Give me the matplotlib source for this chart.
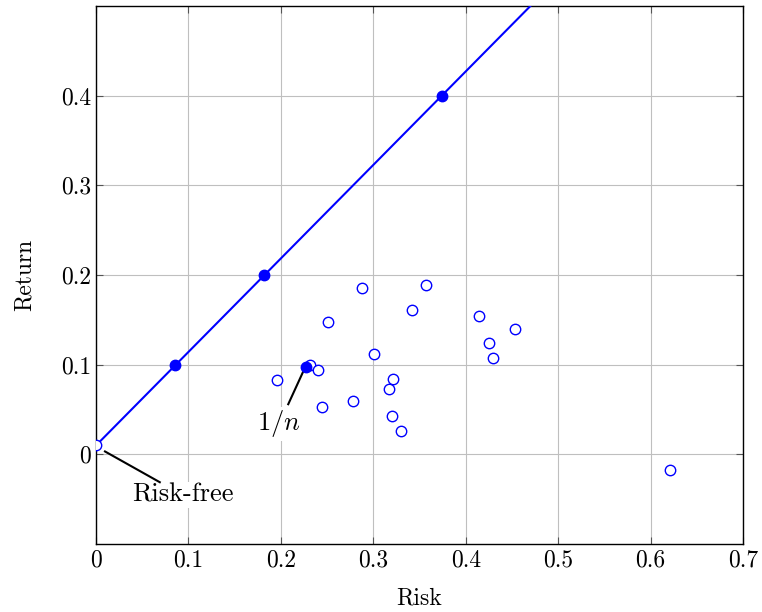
import matplotlib
matplotlib.use("Agg")
import matplotlib.pyplot as plt
import numpy as np

plt.rcParams['font.family'] = 'serif'
plt.rcParams['font.serif'] = ['cmr10']
plt.rcParams['mathtext.fontset'] = 'cm'
plt.rcParams['axes.formatter.use_mathtext'] = True
plt.rcParams['font.size'] = 17

# assets (risk, return)
asset_risk = [0.0, 0.196, 0.232, 0.240, 0.245, 0.251, 0.278, 0.288, 0.301, 0.317,
              0.321, 0.320, 0.330, 0.342, 0.357, 0.414, 0.425, 0.430, 0.453, 0.621]
asset_ret = [0.010, 0.083, 0.100, 0.094, 0.053, 0.148, 0.060, 0.186, 0.112, 0.073,
             0.084, 0.043, 0.026, 0.161, 0.189, 0.154, 0.124, 0.107, 0.140, -0.017]

# portfolios on the capital market line
cml_risk = [0.0855, 0.182, 0.374]
cml_ret = [0.1, 0.2, 0.4]
rf = 0.01
line_end = 0.5

# 1/n portfolio
eq_risk, eq_ret = 0.227, 0.097

fig = plt.figure(figsize=(7.62, 6.12), dpi=100)
ax = fig.add_axes([0.126, 0.111, 0.849, 0.879])

slope = (cml_ret[-1] - rf) / cml_risk[-1]
ax.plot([0, (line_end - rf) / slope], [rf, line_end], color='blue', lw=1.5, zorder=3)
ax.plot(asset_risk, asset_ret, 'o', mfc='white', mec='blue', ms=7.5, mew=1, zorder=4, linestyle='none')
ax.plot(cml_risk, cml_ret, 'o', color='blue', ms=7.5, zorder=5)
ax.plot([eq_risk], [eq_ret], 'o', color='blue', ms=7.5, zorder=5)

# labels with leader lines (white box hides grid)
box = dict(facecolor='white', edgecolor='none', pad=1)
ax.plot([0.0097, 0.069], [0.0033, -0.031], color='black', lw=1.5, zorder=3)
ax.text(0.094, -0.045, 'Risk-free', ha='center', va='center', fontsize=19, bbox=box, zorder=2)
ax.plot([0.224, 0.208], [0.092, 0.056], color='black', lw=1.5, zorder=3)
ax.text(0.198, 0.034, '$1/n$', ha='center', va='center', fontsize=19, bbox=box, zorder=2)

ax.set_xlim(0, 0.7)
ax.set_ylim(-0.1, 0.5)
ax.set_xticks(np.arange(0, 0.71, 0.1))
ax.set_yticks([0, 0.1, 0.2, 0.3, 0.4])
ax.set_xticklabels(['0', '0.1', '0.2', '0.3', '0.4', '0.5', '0.6', '0.7'])
ax.set_yticklabels(['0', '0.1', '0.2', '0.3', '0.4'])
ax.grid(True, color='#bfbfbf', lw=0.8)
ax.set_axisbelow(True)
ax.tick_params(direction='in', top=True, right=True, length=5, color='#555555', labelsize=17)
for s in ax.spines.values():
    s.set_linewidth(1.0)
ax.set_xlabel('Risk', fontsize=17, labelpad=12)
ax.set_ylabel('Return', fontsize=17, labelpad=18)

fig.savefig('out.png', dpi=100)
